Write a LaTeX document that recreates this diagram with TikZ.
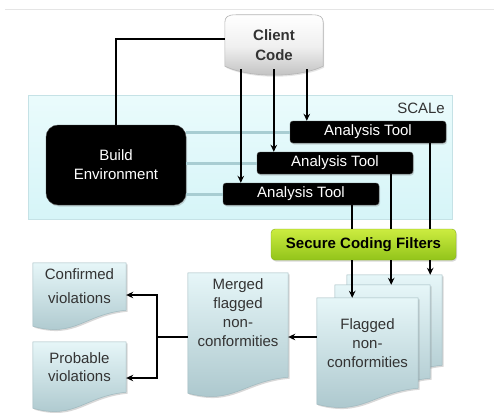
\documentclass[tikz,border=0pt]{standalone}
\usepackage{fontspec}
\setmainfont{Liberation Sans}
\usetikzlibrary{arrows.meta,backgrounds,shadows,calc}
\definecolor{txt}{HTML}{333333}
\definecolor{docTop}{HTML}{E6F6F8}
\definecolor{docBot}{HTML}{A9C5CB}
\definecolor{docEdge}{HTML}{9FB9BF}
\definecolor{scaleTop}{HTML}{EAFBFC}
\definecolor{scaleBot}{HTML}{D6F5F8}
\definecolor{scaleEdge}{HTML}{C5E2E6}
\definecolor{feed}{HTML}{A8CDD2}
\definecolor{filtTop}{HTML}{CCEC40}
\definecolor{filtBot}{HTML}{92C41A}
\definecolor{filtEdge}{HTML}{86AE1E}
\definecolor{clBot}{HTML}{BEBEBE}
\definecolor{clEdge}{HTML}{B5B5B5}
\newcommand\docshape[2]{%
  \path[docfill] let \p1=(#1.north west), \p2=(#1.south east) in
   (\x1,\y1) -- (\x2,\y1) -- (\x2,{\y2-#2})
   .. controls ({\x2-0.45*(\x2-\x1)},{\y2-#2-4pt}) and ({\x1+0.45*(\x2-\x1)},{\y2-#2-28pt}) ..
   (\x1,{\y2-#2-16pt}) -- cycle;}
\begin{document}
\begin{tikzpicture}[x=1pt,y=-1pt,
  base/.style={font=\fontsize{15}{19}\selectfont, align=center, inner sep=0pt},
  blackbox/.style={base, fill=black, text=white, draw=black!70, rounded corners=3pt,
    drop shadow={opacity=0.3,shadow xshift=1pt,shadow yshift=-1.5pt}},
  doc/.style={base, text=txt},
  docfill/.style={top color=docTop, bottom color=docBot, draw=docEdge, line width=0.5pt,
    drop shadow={opacity=0.3, shadow xshift=1.5pt, shadow yshift=-1.5pt}},
  clientfill/.style={top color=white, bottom color=clBot, middle color=white!94!black, draw=clEdge, line width=0.6pt,
    drop shadow={opacity=0.2, shadow xshift=1pt, shadow yshift=-1.5pt}},
  arr/.style={line width=1.5pt, line join=miter, -{Stealth[length=7pt,width=6.5pt]}},
  wire/.style={line width=1.5pt, line join=miter},
  feedline/.style={line width=3pt, draw=feed}]
\begin{pgfonlayer}{background}
\fill[white] (0,0) rectangle (494,412);
\end{pgfonlayer}
\useasboundingbox (0,0) rectangle (494,412);
\draw[black!10, line width=0.8pt] (5,9) -- (494,9);

% SCALe region
\node[draw=scaleEdge, top color=scaleTop, bottom color=scaleBot, minimum width=424pt, minimum height=124pt, inner sep=0pt] (scalebox) at (240,157) {};
\node[base, text=txt, anchor=east] (scalelbl) at (445,108) {SCALe};

% boxes
\node[blackbox, rounded corners=12pt, minimum width=140pt, minimum height=80pt] (build) at (116,165) {Build\\Environment};
\node[blackbox, minimum width=156pt, minimum height=22pt] (tool1) at (368,132) {Analysis Tool};
\node[blackbox, minimum width=156pt, minimum height=22pt] (tool2) at (335,163) {Analysis Tool};
\node[blackbox, minimum width=156pt, minimum height=22pt] (tool3) at (301,194) {Analysis Tool};

\draw[feedline] (build.east |- tool1.west) -- (tool1.west);
\draw[feedline] (build.east |- tool2.west) -- (tool2.west);
\draw[feedline] (build.east |- tool3.west) -- (tool3.west);

% client code
\node[base, font=\bfseries\fontsize{15}{20}\selectfont, text=txt, minimum width=98pt, minimum height=60pt] (client) at (274,45) {Client\\Code};

% documents
\node[doc, font=\fontsize{15}{24}\selectfont, minimum width=93pt, minimum height=47pt] (conf) at (79.5,286.5) {Confirmed\\violations};
\node[doc, font=\fontsize{15}{18}\selectfont, minimum width=93pt, minimum height=50pt] (prob) at (79.5,367) {Probable\\violations};
\node[doc, minimum width=100pt, minimum height=80pt] (merged) at (238,313) {Merged\\flagged\\non-\\conformities};
\node[doc, minimum width=95pt, minimum height=90pt] (flag3) at (394.5,320) {};
\node[doc, minimum width=95pt, minimum height=93pt] (flag2) at (382.5,331.5) {};
\node[doc, minimum width=101pt, minimum height=90pt] (flag1) at (367.5,343) {Flagged\\non-\\conformities};

% filter
\node[base, font=\bfseries\fontsize{15}{19}\selectfont, top color=filtTop, bottom color=filtBot, draw=filtEdge, rounded corners=4pt, minimum width=185pt, minimum height=31pt, drop shadow={opacity=0.3, shadow xshift=1pt, shadow yshift=-1.5pt}] (filt) at (363.5,244.5) {Secure Coding Filters};

\begin{pgfonlayer}{background}
  \path[clientfill] let \p1=(client.north west), \p2=(client.south east) in
    (\x1,\y2+9pt) -- (\x1,\y1-8pt) .. controls (\x1,\y1-2pt) and (\x1+3pt,\y1) .. (\x1+11pt,\y1)
    -- (\x2-11pt,\y1) .. controls (\x2-3pt,\y1) and (\x2,\y1-2pt) .. (\x2,\y1-8pt)
    -- (\x2,\y2+9pt) .. controls (\x2-25pt,\y2-3pt) and (\x1+25pt,\y2-3pt) .. (\x1,\y2+9pt) -- cycle;
  \docshape{conf}{0pt}
  \docshape{prob}{0pt}
  \docshape{merged}{24pt}
  \docshape{flag3}{0pt}
  \docshape{flag2}{0pt}
  \docshape{flag1}{0pt}
\end{pgfonlayer}

% client connectors
\coordinate (a1) at ([xshift=17pt]tool1.north west);
\coordinate (a2) at ([xshift=17pt]tool2.north west);
\coordinate (a3) at ([xshift=18pt]tool3.north west);
\draw[wire] ([yshift=6pt]client.west) -| (build.north);
\draw[arr] ($(client.south -| a1)+(0,-6)$) -- (a1);
\draw[arr] ($(client.south -| a2)+(0,-6)$) -- (a2);
\draw[arr] ($(client.south -| a3)+(0,-6)$) -- (a3);

% tools to filter to flagged
\coordinate (d1) at ([xshift=-16pt]tool1.south east);
\coordinate (d2) at ([xshift=-22pt]tool2.south east);
\coordinate (d3) at ([xshift=-27pt]tool3.south east);
\draw[wire] (d1) -- (d1 |- filt.north);
\draw[wire] (d2) -- (d2 |- filt.north);
\draw[wire] (d3) -- (d3 |- filt.north);
\draw[arr] (d1 |- filt.south) -- (d1 |- flag3.north);
\draw[arr] (d2 |- filt.south) -- (d2 |- flag2.north);
\draw[arr] (d3 |- filt.south) -- (d3 |- flag1.north);

% merge and classify
\coordinate (jn) at (157,337);
\coordinate (jt) at (157,295);
\coordinate (jb) at (157,378);
\draw[arr] (flag1.west |- jn) -- (merged.east |- jn);
\draw[wire] (merged.west |- jn) -- (jn);
\draw[arr] (jb) -- (jt) -- (conf.east |- jt);
\draw[arr] (jn) |- (prob.east |- jb);
\end{tikzpicture}
\end{document}
